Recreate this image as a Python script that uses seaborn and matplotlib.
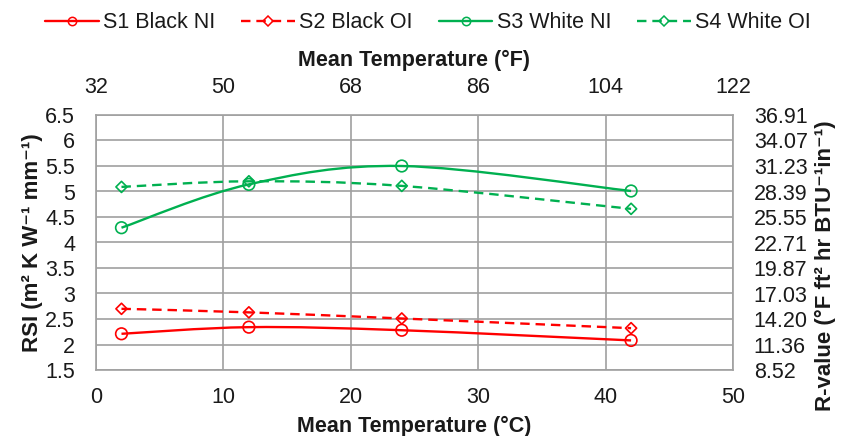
import numpy as np
import matplotlib
matplotlib.use("Agg")
import matplotlib.pyplot as plt
from matplotlib.path import Path
from matplotlib.patches import PathPatch
from matplotlib.lines import Line2D
import seaborn as sns

# -------- DATOS --------
temp_c = [2, 12, 24, 42]
s1_black_ni = [2.21, 2.34, 2.28, 2.08]
s2_black_oi = [2.70, 2.63, 2.51, 2.32]
s3_white_ni = [4.29, 5.14, 5.50, 5.01]
s4_white_oi = [5.09, 5.20, 5.11, 4.66]

series_names = ["S1 Black NI", "S2 Black OI", "S3 White NI", "S4 White OI"]

x_ticks_c = [0, 10, 20, 30, 40, 50]
x_labels_f = ["32", "50", "68", "86", "104", "122"]
rsi_ticks = [1.5, 2, 2.5, 3, 3.5, 4, 4.5, 5, 5.5, 6, 6.5]
rsi_labels = ["1.5", "2", "2.5", "3", "3.5", "4", "4.5", "5", "5.5", "6", "6.5"]
rvalue_labels = ["8.52", "11.36", "14.20", "17.03", "19.87", "22.71",
                 "25.55", "28.39", "31.23", "34.07", "36.91"]

RED = "#FF0000"
GREEN = "#00B050"
GRID = "#A0A0A0"
TXT = "#1a1a1a"
FONT = ["Liberation Sans", "DejaVu Sans"]

sns.set_style("white")
plt.rcParams["font.family"] = FONT
plt.rcParams["text.color"] = TXT
plt.rcParams["axes.labelcolor"] = TXT
plt.rcParams["xtick.color"] = TXT
plt.rcParams["ytick.color"] = TXT


def smooth_path(xs, ys):
    # curva suavizada tipo Excel (Catmull-Rom -> Bezier)
    pts = np.column_stack([xs, ys]).astype(float)
    p = np.vstack([pts[0], pts, pts[-1]])
    verts = [pts[0]]
    codes = [Path.MOVETO]
    for i in range(1, len(p) - 2):
        p0, p1, p2, p3 = p[i - 1], p[i], p[i + 1], p[i + 2]
        verts += [p1 + (p2 - p0) / 6, p2 - (p3 - p1) / 6, p2]
        codes += [Path.CURVE4] * 3
    return Path(verts, codes)


fig = plt.figure(figsize=(8.41, 4.36), dpi=100)
ax = fig.add_axes([96 / 841, 1 - 370 / 436, (733 - 96) / 841, (370 - 115) / 436])

series = [
    (s1_black_ni, RED, "-", "o", 70),
    (s2_black_oi, RED, (0, (4, 2.5)), "D", 32),
    (s3_white_ni, GREEN, "-", "o", 70),
    (s4_white_oi, GREEN, (0, (4, 2.5)), "D", 32),
]

handles = []
for (vals, col, ls, mk, sz), name in zip(series, series_names):
    ax.add_patch(PathPatch(smooth_path(temp_c, vals), fill=False,
                           edgecolor=col, lw=1.7, linestyle=ls, zorder=3))
    sns.scatterplot(x=temp_c, y=vals, marker=mk, s=sz, facecolor="none",
                    edgecolor=col, linewidth=1.2, ax=ax, zorder=4)
    handles.append(Line2D([], [], color=col, lw=1.7, linestyle=ls, marker=mk,
                          markersize=6 if mk == "o" else 5,
                          markerfacecolor="none", markeredgecolor=col,
                          markeredgewidth=1.1, label=name))

ax.set_xlim(0, 50)
ax.set_ylim(1.5, 6.5)
ax.set_xticks(x_ticks_c)
ax.set_yticks(rsi_ticks)
ax.set_yticklabels(rsi_labels)
ax.grid(True, color=GRID, lw=1.2)
ax.set_axisbelow(True)
for sp in ax.spines.values():
    sp.set_color(GRID)
    sp.set_linewidth(1.2)
ax.tick_params(axis="y", length=0, pad=15, labelsize=15.5)
ax.tick_params(axis="x", length=0, pad=12, labelsize=15.5)
ax.set_xlabel("Mean Temperature (\u00b0C)", fontsize=15.5, fontweight="bold", labelpad=6)
ax.set_ylabel("RSI (m\u00b2 K W\u207b\u00b9 mm\u207b\u00b9)", fontsize=16,
              fontweight="bold", labelpad=2)

# eje derecho: R-value
axr = ax.twinx()
axr.set_ylim(ax.get_ylim())
axr.set_yticks(rsi_ticks)
axr.set_yticklabels(rvalue_labels)
axr.tick_params(length=0, pad=15, labelsize=15.5)
axr.set_ylabel("R-value (\u00b0F ft\u00b2 hr BTU\u207b\u00b9in\u207b\u00b9)", fontsize=16,
               fontweight="bold", rotation=90)
axr.yaxis.set_label_coords(1.128, 0.41)
for sp in axr.spines.values():
    sp.set_visible(False)

# eje superior: Fahrenheit
axt = ax.twiny()
axt.set_xlim(ax.get_xlim())
axt.set_xticks(x_ticks_c)
axt.set_xticklabels(x_labels_f)
axt.tick_params(length=0, pad=12, labelsize=15.5)
axt.set_xlabel("Mean Temperature (\u00b0F)", fontsize=15.5, fontweight="bold", labelpad=8)
for sp in axt.spines.values():
    sp.set_visible(False)

fig.legend(handles=handles, loc="center", bbox_to_anchor=(428 / 841, 1 - 23 / 436),
           ncol=4, frameon=False, fontsize=15.5, handlelength=2.5,
           handletextpad=0.2, columnspacing=1.2)

fig.savefig("out.png", dpi=100)
